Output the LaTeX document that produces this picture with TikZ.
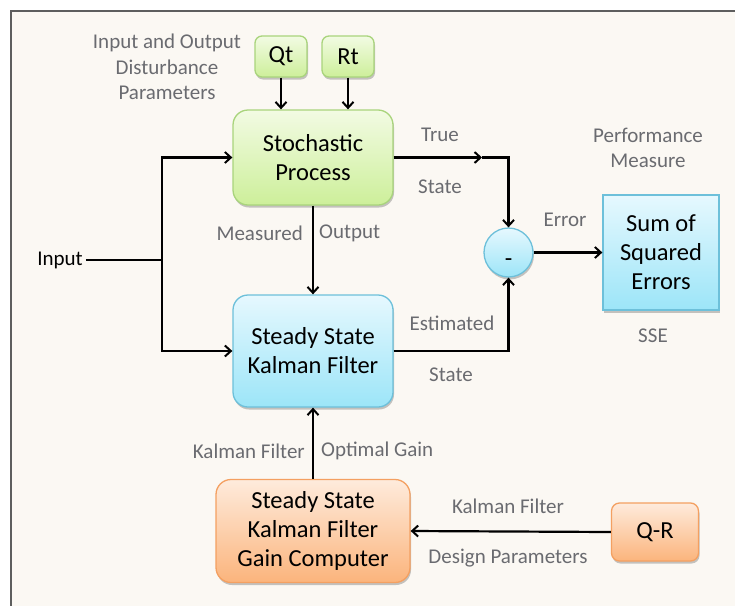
\documentclass[tikz,border=0pt]{standalone}
\usepackage{fontspec}
\setmainfont{Carlito}
\usetikzlibrary{arrows.meta,shadows,calc}
\definecolor{bgc}{HTML}{FBF8F3}
\definecolor{framec}{HTML}{5E5E5E}
\definecolor{lblc}{HTML}{6A6B70}
\definecolor{gtop}{HTML}{F2FBE3}
\definecolor{gbot}{HTML}{CDEF9A}
\definecolor{gbrd}{HTML}{A9D47C}
\definecolor{btop}{HTML}{E6F8FE}
\definecolor{bbot}{HTML}{9CE5F8}
\definecolor{bbrd}{HTML}{6DC0DA}
\definecolor{otop}{HTML}{FEEBDC}
\definecolor{obot}{HTML}{FBB47C}
\definecolor{obrd}{HTML}{F4A061}
\tikzset{
  boxtext/.style={font=\fontsize{24.5}{29}\selectfont, align=center, text=black},
  lbl/.style={font=\fontsize{21}{25.5}\selectfont, align=center, text=lblc, inner sep=0pt},
  shade/.style={drop shadow={shadow xshift=1pt, shadow yshift=-2.5pt, opacity=0.22, fill=black}},
  greenbox/.style={boxtext, rounded corners=#1, draw=gbrd, line width=1.3pt, top color=gtop, bottom color=gbot, shade, inner sep=0pt},
  bluebox/.style={boxtext, rounded corners=#1, draw=bbrd, line width=1.3pt, top color=btop, bottom color=bbot, shade, inner sep=0pt},
  orangebox/.style={boxtext, rounded corners=#1, draw=obrd, line width=1.3pt, top color=otop, bottom color=obot, shade, inner sep=0pt},
  conn/.style={line width=2.2pt, draw=black},
  arr/.style={conn, -{Straight Barb[length=6pt,width=11pt,line width=2pt]}},
}
\begin{document}
\begin{tikzpicture}[x=1pt,y=-1pt]
\useasboundingbox (0,0) rectangle (735,605);
\fill[white] (0,0) rectangle (735,605);
\draw[fill=bgc, draw=framec, line width=2.2pt] (11,11) rectangle (760,630);

% nodes
\node[greenbox=7pt, minimum width=52pt, minimum height=41pt] (qt) at (281,56.5) {Qt};
\node[greenbox=7pt, minimum width=52pt, minimum height=41pt] (rt) at (348,56.5) {Rt};
\node[greenbox=15pt, minimum width=160pt, minimum height=95pt] (sp) at (313,157.5) {Stochastic\\Process};
\node[bluebox=15pt, minimum width=160pt, minimum height=112pt] (kf) at (313,351) {Steady State\\Kalman Filter};
\node[orangebox=15pt, minimum width=194pt, minimum height=103pt] (gc) at (313,531) {Steady State\\Kalman Filter\\Gain Computer};
\node[orangebox=8pt, minimum width=87pt, minimum height=58pt] (qr) at (655,532) {Q-R};
\node[bluebox=0pt, minimum width=116pt, minimum height=115pt] (sse) at (661,252.5) {Sum of\\Squared\\Errors};
\node[circle, draw=bbrd, line width=1.3pt, top color=btop, bottom color=bbot, shade, minimum size=49pt, inner sep=0pt] (diff) at (508.5,252.5) {};
\node[boxtext, inner sep=0pt] (minus) at (508.5,263) {-};
\node[lbl, text=black] (input) at (60,260) {Input};

% labels
\node[lbl] (l1) at (167,67) {Input and Output\\Disturbance\\Parameters};
\node[lbl] (l2) at (440,135) {True};
\node[lbl] (l3) at (440,187) {State};
\node[lbl] (l4) at (648,148) {Performance\\Measure};
\node[lbl] (l5) at (565,220) {Error};
\node[lbl] (l6) at (653,336) {SSE};
\node[lbl] (l7) at (452,323) {Estimated};
\node[lbl] (l8) at (451,375) {State};
\node[lbl, anchor=east] (l9) at (303,233) {Measured};
\node[lbl, anchor=west] (l10) at (319,233) {Output};
\node[lbl, anchor=east] (l11) at (305,451) {Kalman Filter};
\node[lbl, anchor=west] (l12) at (321,451) {Optimal Gain};
\node[lbl] (l13) at (508,506) {Kalman Filter};
\node[lbl] (l14) at (508,558) {Design Parameters};

% coordinates
\coordinate (jn) at (162,260);
\coordinate (jtop) at (162,157.5);
\coordinate (jbot) at (162,351);
\coordinate (tmid) at (482,157.5);
\coordinate (tcor) at (508.5,157.5);
\coordinate (ecor) at (508.5,351);

% connectors
\draw[arr] (qt.south) -- (qt.south |- sp.north);
\draw[arr] (rt.south) -- (rt.south |- sp.north);
\draw[conn] (input.east) ++(3,0) -- (jn);
\draw[arr] (jn) -- (jtop) -- (sp.west);
\draw[arr] (jn) -- (jbot) -- (kf.west);
\draw[arr] (sp.south) -- (kf.north);
\draw[arr] (sp.east) -- (tmid);
\draw[arr] (tmid) -- (tcor) -- (diff.north);
\draw[arr] (kf.east) -- (ecor) -- (diff.south);
\draw[arr] (diff.east) -- (sse.west);
\draw[arr] (gc.north) -- (kf.south);
\draw[arr] (qr.west) -- (gc.east);
\end{tikzpicture}
\end{document}
